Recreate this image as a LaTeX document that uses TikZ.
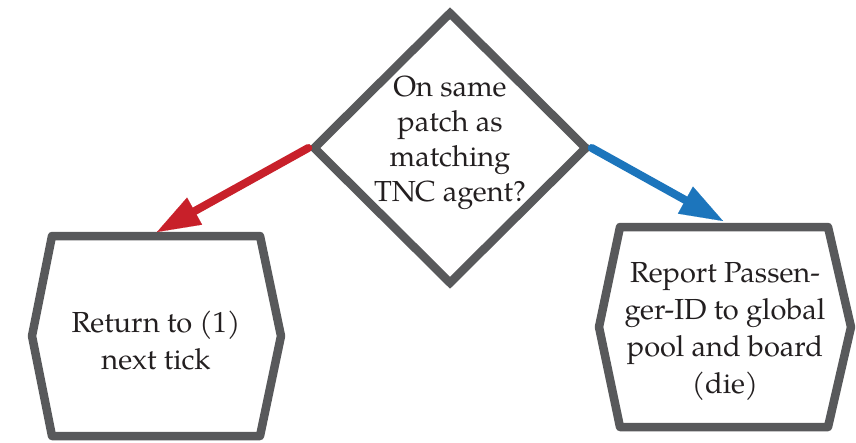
\documentclass[tikz,border=0pt]{standalone}
\usepackage{fontspec}
\setmainfont{TeX Gyre Pagella}
\usetikzlibrary{shapes.geometric,arrows.meta}
\definecolor{gr}{HTML}{58595B}
\definecolor{rd}{HTML}{C8202A}
\definecolor{bl}{HTML}{1C75BC}
\definecolor{tx}{HTML}{231F20}
\begin{document}
\begin{tikzpicture}[x=1pt,y=-1pt,
  decision/.style={diamond, draw=gr, line width=8.5pt, minimum width=275pt, minimum height=273pt, inner sep=0pt, line join=miter},
  hexbox/.style={draw=gr, line width=8.5pt, line join=round},
  txt/.style={align=center, text=tx, font=\fontsize{29}{37}\selectfont, inner sep=0pt},
  conn/.style={line width=8pt, line cap=round, -{Triangle[length=43pt,width=31pt,line width=0.1pt]}}
]
\path[use as bounding box] (0,0) rectangle (856,442);
% decision
\node[decision] (q) at (450,148) {};
\node[txt, font=\fontsize{29}{35}\selectfont] (qt) at (450,143) {On same\\patch as\\matching\\TNC agent?};
% left box
\draw[hexbox] (52,236) -- (260,236) -- (281,336) -- (260,436) -- (52,436) -- (32,336) -- cycle;
\node[txt] (ret) at (156,340) {Return to (1)\\next tick};
\coordinate (lt) at (157,232);
% right box
\draw[hexbox] (620,227) -- (828,227) -- (851,327) -- (828,427) -- (620,427) -- (599,327) -- cycle;
\node[txt] (rep) at (725,331) {Report Passen-\\ger-ID to global\\pool and board\\(die)};
\coordinate (rt) at (723,221);
% connectors
\draw[conn, draw=rd, fill=rd] (q.west) -- (lt);
\draw[conn, draw=bl, fill=bl] (q.east) -- (rt);
\end{tikzpicture}
\end{document}
